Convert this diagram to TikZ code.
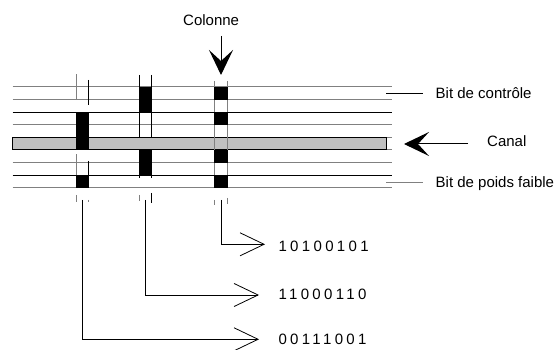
\documentclass[tikz,border=0pt]{standalone}
\usepackage{fontspec}
\setmainfont{Liberation Sans}
\newfontfamily\spacedfont[LetterSpace=22.4]{Liberation Sans}
\usetikzlibrary{arrows.meta}
\definecolor{trackgray}{HTML}{808080}
\definecolor{canalgray}{HTML}{C0C0C0}
\begin{document}
\begin{tikzpicture}[x=1pt,y=-1pt,
  track/.style={line width=1pt,draw=trackgray},
  trackdark/.style={line width=1pt,draw=black},
  bitblock/.style={fill=black},
  colmark/.style={line width=0.8pt,draw=black},
  colmarkgray/.style={line width=0.8pt,draw=trackgray},
  lbl/.style={inner sep=0pt,anchor=base west,font=\fontsize{15}{18}\selectfont},
  binlbl/.style={inner sep=0pt,anchor=base west,font=\fontsize{15}{18}\spacedfont},
  readout/.style={line width=0.8pt,-{Straight Barb[length=24pt,width=23pt,line width=0.8pt]}},
  bigarrow/.style={line width=1pt,-{Stealth[length=25pt,width=24pt,inset=11pt]}}]
\useasboundingbox (0,0) rectangle (560,350);

% canal
\fill[canalgray] (12.7,137.4) rectangle (386.7,150);
% tracks
\foreach \yy in {87,99.6,124.8,137.4,150,162.6,187.8}
  \draw[track] (12.7,\yy) -- (391.7,\yy);
\foreach \yy in {112.2,175.2}
  \draw[trackdark] (12.7,\yy) -- (391.7,\yy);
\draw[line width=1pt] (12.7,137.4) rectangle (386.7,150);

% column 1
\fill[bitblock] (76,112.2) rectangle (88.7,150);
\fill[bitblock] (76,175.2) rectangle (88.7,187.8);
\draw[colmarkgray] (76.2,74.3) -- (76.2,99.6);
\draw[colmark] (88.4,80) -- (88.4,105);
\draw[colmarkgray] (76.2,154.3) -- (76.2,175.2);
\draw[colmark] (88.4,161) -- (88.4,175.2);
\draw[colmarkgray] (76.2,195) -- (76.2,201.7);
\draw[colmarkgray] (88.4,200) -- (88.4,202);

% column 2
\fill[bitblock] (139.3,87) rectangle (151.7,112.2);
\fill[bitblock] (139.3,150) rectangle (151.7,175.2);
\foreach \xx in {139.7,151.3}{
  \draw[colmark] (\xx,75) -- (\xx,87);
  \draw[colmark] (\xx,112.2) -- (\xx,137.4);
  \draw[colmark] (\xx,175.2) -- (\xx,178);
}
\draw[colmarkgray] (139.7,195) -- (139.7,201);
\draw[colmark] (151.3,193) -- (151.3,203);

% column 3
\fill[bitblock] (214.3,87) rectangle (228,99.6);
\fill[bitblock] (214.3,112.2) rectangle (228,124.8);
\fill[bitblock] (214.3,150) rectangle (228,162.6);
\fill[bitblock] (214.3,175.2) rectangle (228,187.8);
\foreach \xx in {214.7,227.6}{
  \draw[colmarkgray] (\xx,81) -- (\xx,87);
  \draw[colmarkgray] (\xx,99.6) -- (\xx,112.2);
  \draw[colmarkgray] (\xx,124.8) -- (\xx,150);
  \draw[colmarkgray] (\xx,162.6) -- (\xx,175.2);
}
\draw[colmarkgray] (214.7,200) -- (214.7,205);
\draw[colmarkgray] (227.6,198) -- (227.6,204);

% labels and pointers
\node[lbl] (colonne) at (183,26) {Colonne};
\coordinate (colsrc) at (221,36);
\coordinate (coltip) at (221,75);
\draw[bigarrow] (colsrc) -- (coltip);

\node[lbl] (ctrl) at (435.5,98.5) {Bit de contrôle};
\coordinate (ctrlA) at (386,93.3);
\coordinate (ctrlB) at (423,93.3);
\draw[line width=0.8pt] (ctrlA) -- (ctrlB);

\node[lbl] (canal) at (487,146.5) {Canal};
\coordinate (canalsrc) at (468,144);
\coordinate (canaltip) at (404,144);
\draw[bigarrow] (canalsrc) -- (canaltip);

\node[lbl] (faible) at (435.5,188) {Bit de poids faible};
\coordinate (faibleA) at (386,182.5);
\coordinate (faibleB) at (423,182.5);
\draw[line width=0.8pt,draw=trackgray] (faibleA) -- (faibleB);

% readouts
\coordinate (c3top) at (221.2,200);
\coordinate (c3tip) at (265,244.3);
\coordinate (c2top) at (145.6,200);
\coordinate (c2tip) at (259,295);
\coordinate (c1top) at (82.3,200);
\coordinate (c1tip) at (259,339.3);
\draw[readout] (c3top) |- (c3tip);
\draw[readout] (c2top) |- (c2tip);
\draw[readout] (c1top) |- (c1tip);
\node[binlbl] (r3) at (278.3,251.5) {10100101};
\node[binlbl] (r2) at (278.3,299.5) {11000110};
\node[binlbl] (r1) at (278.3,344) {00111001};
\end{tikzpicture}
\end{document}
